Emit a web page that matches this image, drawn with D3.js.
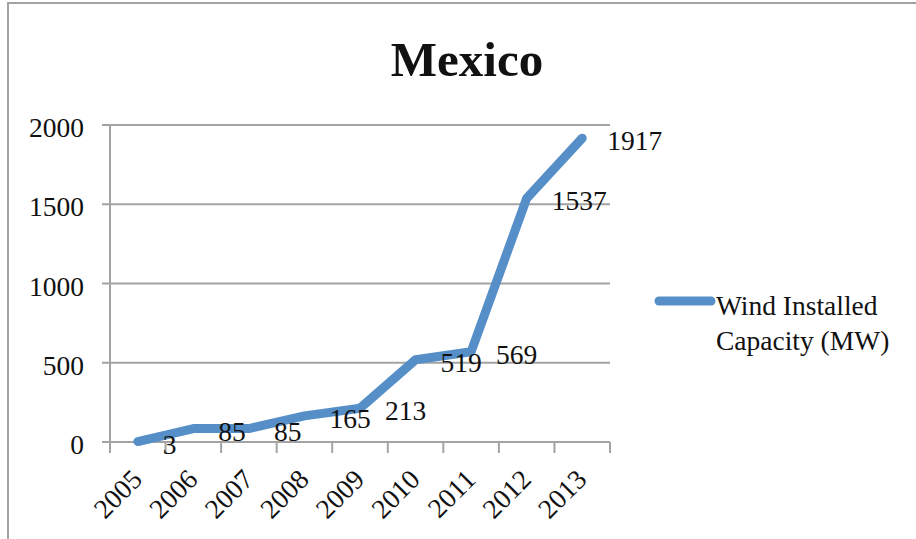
<!DOCTYPE html>
<html>
<head>
<meta charset="utf-8">
<script src="https://cdn.jsdelivr.net/npm/d3@7"></script>
<style>
  body { margin: 0; background: #fff; }
  text { font-family: "Liberation Serif", serif; fill: #111; }
</style>
</head>
<body>
<div id="chart"></div>
<script>
const years = ["2005", "2006", "2007", "2008", "2009", "2010", "2011", "2012", "2013"];
const capacity = [3, 85, 85, 165, 213, 519, 569, 1537, 1917];
const yTicks = [0, 500, 1000, 1500, 2000];
const seriesName = ["Wind Installed", "Capacity (MW)"];
const title = "Mexico";

const width = 916;
const height = 539;
const margin = { top: 125, left: 110, bottom: 97, right: 306 };
const lineColor = "#568fc8";
const gridColor = "#a3a3a3";
const fontSize = "27.5px";

const svg = d3.select("#chart").append("svg")
  .attr("width", width)
  .attr("height", height);

svg.append("rect")
  .attr("width", width).attr("height", height)
  .attr("fill", "#fff");

// outer chart border (runs off the right and bottom of the picture)
svg.append("rect")
  .attr("x", 8).attr("y", 3)
  .attr("width", 1000).attr("height", 700)
  .attr("fill", "none")
  .attr("stroke", gridColor)
  .attr("stroke-width", 2);

const x = d3.scaleBand()
  .domain(years)
  .range([margin.left, width - margin.right]);

const y = d3.scaleLinear()
  .domain([0, 2000])
  .range([height - margin.bottom, margin.top]);

// gridlines
svg.append("g")
  .selectAll("line")
  .data(yTicks)
  .join("line")
  .attr("x1", margin.left - 8)
  .attr("x2", width - margin.right)
  .attr("y1", (d) => y(d))
  .attr("y2", (d) => y(d))
  .attr("stroke", gridColor)
  .attr("stroke-width", 2);

// y axis
const yAxis = svg.append("g")
  .attr("transform", `translate(${margin.left},0)`)
  .call(d3.axisLeft(y).tickValues(yTicks).tickFormat(d3.format("d")).tickSize(8).tickPadding(18));
yAxis.select(".domain").remove();
yAxis.selectAll("line").remove();
yAxis.selectAll("text")
  .attr("dy", "0.42em")
  .style("font-family", "Liberation Serif")
  .style("font-size", fontSize)
  .attr("fill", "#111");

svg.append("line")
  .attr("x1", margin.left).attr("x2", margin.left)
  .attr("y1", y(2000)).attr("y2", y(0))
  .attr("stroke", gridColor)
  .attr("stroke-width", 2);

// x axis tick marks at category boundaries
const bounds = d3.range(years.length + 1).map((i) => x.range()[0] + i * x.step());
svg.append("g")
  .selectAll("line")
  .data(bounds)
  .join("line")
  .attr("x1", (d) => d).attr("x2", (d) => d)
  .attr("y1", y(0)).attr("y2", y(0) + 11)
  .attr("stroke", gridColor)
  .attr("stroke-width", 2);

const xAxis = svg.append("g")
  .attr("transform", `translate(0,${y(0)})`)
  .call(d3.axisBottom(x).tickSize(0));
xAxis.select(".domain").remove();
xAxis.selectAll("text")
  .attr("y", 0)
  .attr("dy", 0)
  .attr("text-anchor", "end")
  .attr("transform", "translate(6,39) rotate(-45)")
  .style("font-family", "Liberation Serif")
  .style("font-size", fontSize)
  .attr("fill", "#111");

// series line
const pts = years.map((d, i) => ({ year: d, value: capacity[i] }));
const line = d3.line()
  .x((d) => x(d.year) + x.bandwidth() / 2)
  .y((d) => y(d.value));

svg.append("path")
  .datum(pts)
  .attr("d", line)
  .attr("fill", "none")
  .attr("stroke", lineColor)
  .attr("stroke-width", 9)
  .attr("stroke-linejoin", "round")
  .attr("stroke-linecap", "round");

// data labels
svg.append("g")
  .selectAll("text")
  .data(pts)
  .join("text")
  .attr("x", (d) => x(d.year) + x.bandwidth() / 2 + 25)
  .attr("y", (d) => y(d.value) + 12)
  .style("font-size", fontSize)
  .text((d) => d.value);

// title
svg.append("text")
  .attr("x", 467)
  .attr("y", 76)
  .attr("text-anchor", "middle")
  .style("font-size", "49px")
  .style("font-weight", "bold")
  .text(title);

// legend
svg.append("line")
  .attr("x1", 659).attr("x2", 711)
  .attr("y1", 301).attr("y2", 301)
  .attr("stroke", lineColor)
  .attr("stroke-width", 9)
  .attr("stroke-linecap", "round");

svg.append("g")
  .selectAll("text")
  .data(seriesName)
  .join("text")
  .attr("x", 716)
  .attr("y", (d, i) => 315 + i * 35)
  .style("font-size", fontSize)
  .text((d) => d);
</script>
</body>
</html>
